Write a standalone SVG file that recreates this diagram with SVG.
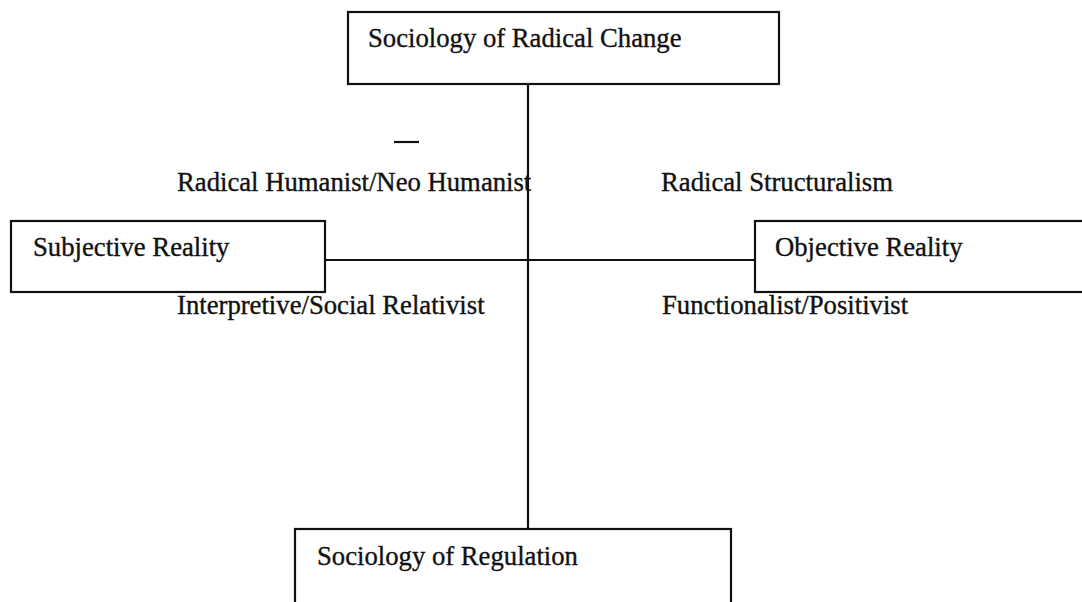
<svg xmlns="http://www.w3.org/2000/svg" width="1082" height="602" viewBox="0 0 1082 602">
  <style>
    .box { fill: #ffffff; stroke: #111111; stroke-width: 2.2; }
    .line { stroke: #111111; stroke-width: 2.2; fill: none; }
    text { font-family: "Liberation Serif", "Times New Roman", serif; font-size: 26.7px; fill: #111111; stroke: #111111; stroke-width: 0.35; }
  </style>
  <rect x="0" y="0" width="1082" height="602" fill="#ffffff"/>

  <!-- axes joining the four poles -->
  <g id="connectors">
    <line class="line" x1="528" y1="84" x2="528" y2="529"/>
    <line class="line" x1="325" y1="260" x2="755" y2="260"/>
  </g>

  <g id="radical-change">
    <rect class="box" x="348" y="12" width="431" height="72"/>
    <text x="368" y="47">Sociology of Radical Change</text>
  </g>

  <g id="subjective">
    <rect class="box" x="11" y="221" width="314" height="71"/>
    <text x="33" y="256">Subjective Reality</text>
  </g>

  <g id="objective">
    <rect class="box" x="755" y="221" width="340" height="71"/>
    <text x="775" y="256">Objective Reality</text>
  </g>

  <g id="regulation">
    <rect class="box" x="295" y="529" width="436" height="90"/>
    <text x="317" y="565">Sociology of Regulation</text>
  </g>

  <!-- quadrant labels -->
  <g id="quadrants">
    <line class="line" x1="394" y1="142" x2="419" y2="142"/>
    <text x="177" y="191">Radical Humanist/Neo Humanist</text>
    <text x="661" y="191">Radical Structuralism</text>
    <text x="177" y="314">Interpretive/Social Relativist</text>
    <text x="662" y="314">Functionalist/Positivist</text>
  </g>
</svg>
